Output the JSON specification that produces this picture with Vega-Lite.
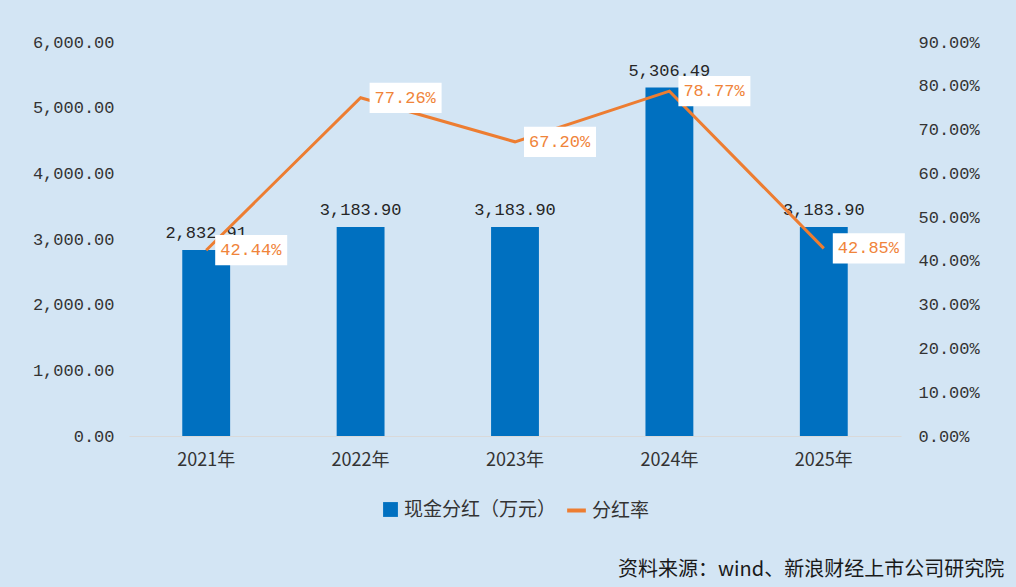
{
  "$schema": "https://vega.github.io/schema/vega-lite/v6.json",
  "background": "#d3e5f4",
  "padding": {"left": 32, "top": 33, "right": 11, "bottom": 9},
  "width": 772,
  "height": 394,
  "config": {
    "view": {"stroke": null},
    "axis": {
      "labelFont": "Liberation Mono",
      "labelFontSize": 17,
      "labelColor": "#333333",
      "grid": false,
      "ticks": false,
      "domain": false,
      "title": null
    },
    "legend": {
      "labelFont": "Noto Sans CJK SC",
      "labelFontSize": 19,
      "labelColor": "#333333",
      "offset": 30,
      "layout": {"bottom": {"anchor": "middle", "direction": "horizontal", "center": true}}
    },
    "title": {
      "font": "Noto Sans CJK SC",
      "fontSize": 20,
      "fontWeight": "normal",
      "color": "#1a1a1a"
    }
  },
  "title": {
    "text": "资料来源：wind、新浪财经上市公司研究院",
    "orient": "bottom",
    "anchor": "end",
    "frame": "bounds",
    "offset": 39,
    "dx": 25
  },
  "data": {
    "values": [
      {"year": "2021年", "dividend": 2832.91, "rate": 0.4244},
      {"year": "2022年", "dividend": 3183.90, "rate": 0.7726},
      {"year": "2023年", "dividend": 3183.90, "rate": 0.6720},
      {"year": "2024年", "dividend": 5306.49, "rate": 0.7877},
      {"year": "2025年", "dividend": 3183.90, "rate": 0.4285}
    ]
  },
  "encoding": {
    "x": {
      "field": "year",
      "type": "ordinal",
      "scale": {"paddingInner": 0.69, "paddingOuter": 0.345},
      "axis": {
        "labelAngle": 0,
        "labelFont": "Noto Sans CJK SC",
        "labelFontSize": 18,
        "labelPadding": 15,
        "domain": true,
        "domainColor": "#d9d9d9",
        "domainWidth": 1
      }
    }
  },
  "layer": [
    {
      "encoding": {
        "y": {
          "field": "dividend",
          "type": "quantitative",
          "scale": {"domain": [0, 6000]},
          "axis": {
            "values": [0, 1000, 2000, 3000, 4000, 5000, 6000],
            "format": ",.2f",
            "labelPadding": 15
          }
        }
      },
      "layer": [
        {
          "mark": {"type": "bar"},
          "encoding": {
            "fill": {
              "datum": "现金分红（万元）",
              "scale": {"range": ["#0070c0"]},
              "legend": {"title": null, "orient": "bottom", "symbolType": "square", "symbolSize": 220, "symbolStrokeWidth": 0}
            }
          }
        },
        {
          "mark": {"type": "text", "baseline": "alphabetic", "dy": -12, "font": "Liberation Mono", "fontSize": 17, "color": "#262626"},
          "encoding": {"text": {"field": "dividend", "type": "quantitative", "format": ",.2f"}}
        }
      ]
    },
    {
      "encoding": {
        "y": {
          "field": "rate",
          "type": "quantitative",
          "scale": {"domain": [0, 0.9]},
          "axis": {
            "orient": "right",
            "values": [0, 0.1, 0.2, 0.3, 0.4, 0.5, 0.6, 0.7, 0.8, 0.9],
            "format": ".2%",
            "labelPadding": 17
          }
        }
      },
      "layer": [
        {
          "mark": {"type": "line", "strokeWidth": 3},
          "encoding": {
            "stroke": {
              "datum": "分红率",
              "scale": {"range": ["#ed7d31"]},
              "legend": {"title": null, "orient": "bottom", "symbolType": "stroke", "symbolSize": 350, "symbolStrokeWidth": 4}
            }
          }
        },
        {
          "mark": {
            "type": "point",
            "shape": "M-1,-0.42L1,-0.42L1,0.42L-1,0.42Z",
            "filled": true,
            "color": "#ffffff",
            "opacity": 1,
            "size": 5184,
            "xOffset": 45,
            "strokeWidth": 0
          }
        },
        {
          "mark": {"type": "text", "align": "left", "baseline": "middle", "dx": 14, "font": "Liberation Mono", "fontSize": 17, "color": "#f0843a"},
          "encoding": {"text": {"field": "rate", "type": "quantitative", "format": ".2%"}}
        }
      ]
    }
  ],
  "resolve": {"scale": {"y": "independent", "fill": "independent", "stroke": "independent"}}
}
